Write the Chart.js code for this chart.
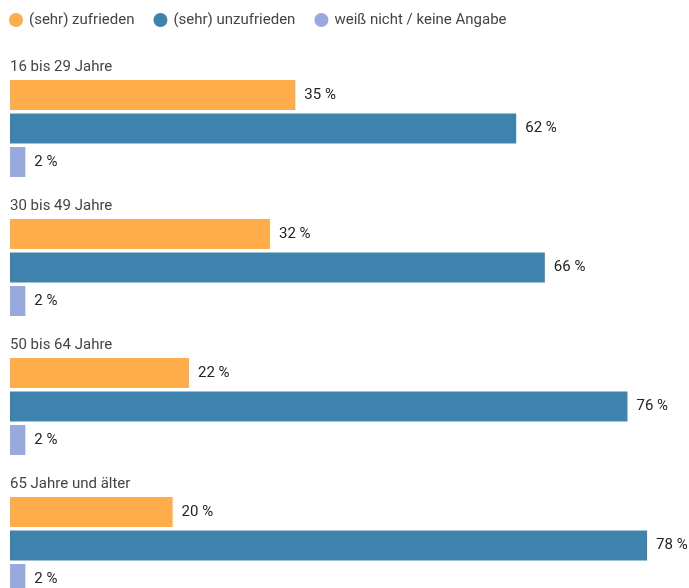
<!DOCTYPE html>
<html lang="de">
<head>
<meta charset="utf-8">
<script src="https://cdn.jsdelivr.net/npm/chart.js@4"></script>
<style>
  html, body { margin: 0; padding: 0; background: #fff; overflow: hidden; }
  #wrap { position: relative; width: 689px; height: 615px; }
</style>
</head>
<body>
<div id="wrap"><canvas id="chart"></canvas></div>
<script>
// Zufriedenheit nach Altersgruppen
const GROUPS = ["16 bis 29 Jahre", "30 bis 49 Jahre", "50 bis 64 Jahre", "65 Jahre und älter"];
const SERIES = ["(sehr) zufrieden", "(sehr) unzufrieden", "weiß nicht / keine Angabe"];
const zufrieden = [35, 31.9, 22, 20];
const unzufrieden = [62, 65.5, 75.6, 78];
const weissNicht = [2, 2, 2, 2];

const COLORS = ["#ffad4b", "#3e83ad", "#98a9dd"];
const FONT = "Roboto, 'Open Sans', sans-serif";

const fmtPct = (v) => `${Math.round(v)} %`;

// Legende oben links mit Punkten
const legendDots = {
  id: "legendDots",
  afterDraw(chart) {
    const ctx = chart.ctx;
    ctx.save();
    ctx.font = `15px ${FONT}`;
    ctx.textBaseline = "middle";
    let x = 9;
    chart.data.datasets.forEach((ds) => {
      ctx.fillStyle = ds.backgroundColor;
      ctx.beginPath();
      ctx.arc(x + 7, 20, 7, 0, Math.PI * 2);
      ctx.fill();
      ctx.fillStyle = "#444";
      ctx.fillText(ds.label, x + 20, 20);
      x += 20 + ctx.measureText(ds.label).width + 19;
    });
    ctx.restore();
  },
};

// Gruppentitel über jedem Balkenblock + Werte rechts neben den Balken
const barText = {
  id: "barText",
  afterDatasetsDraw(chart) {
    const ctx = chart.ctx;
    const y = chart.scales.y;
    ctx.save();
    ctx.font = `15px ${FONT}`;
    ctx.textBaseline = "middle";
    ctx.fillStyle = "#444";
    chart.data.labels.forEach((lab, i) => {
      ctx.fillText(lab, chart.chartArea.left, y.getPixelForValue(i) - 61);
    });
    ctx.fillStyle = "#222";
    chart.data.datasets.forEach((ds, di) => {
      chart.getDatasetMeta(di).data.forEach((bar, i) => {
        ctx.fillText(fmtPct(ds.data[i]), bar.x + 8, bar.y);
      });
    });
    ctx.restore();
  },
};

const dataArrays = [zufrieden, unzufrieden, weissNicht];

new Chart(document.getElementById("chart"), {
  type: "bar",
  data: {
    labels: GROUPS,
    datasets: SERIES.map((s, i) => ({
      label: s,
      data: dataArrays[i],
      backgroundColor: COLORS[i],
      borderColor: "rgba(255,255,255,0.45)",
      borderWidth: 1,
      categoryPercentage: 0.723,
      barPercentage: 0.955,
    })),
  },
  options: {
    indexAxis: "y",
    responsive: true,
    maintainAspectRatio: false,
    animation: false,
    layout: { padding: { top: 59, left: 10, right: 0, bottom: 0 } },
    plugins: {
      legend: { display: false },
      tooltip: { enabled: false },
    },
    scales: {
      x: { display: false, min: 0, max: 83 },
      y: { display: false },
    },
  },
  plugins: [legendDots, barText],
});
</script>
</body>
</html>
